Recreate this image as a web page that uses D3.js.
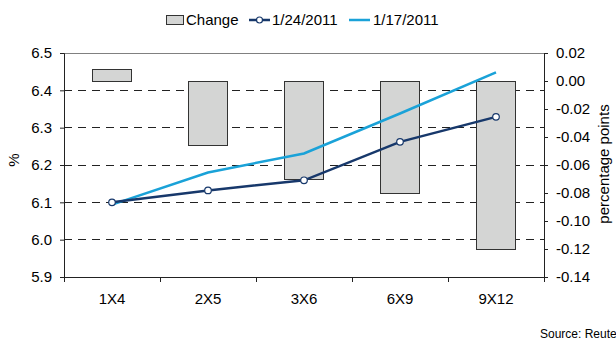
<!DOCTYPE html>
<html><head><meta charset="utf-8">
<script src="https://cdn.jsdelivr.net/npm/d3@7"></script>
<style>
html,body{margin:0;padding:0;background:#fff;overflow:hidden}
text{font-family:"Liberation Sans",Arial,sans-serif;fill:#000}
</style></head>
<body><svg id="c" width="616" height="340"></svg>
<script>
const categories = ["1X4","2X5","3X6","6X9","9X12"];
const jan24 = [6.10, 6.132, 6.159, 6.262, 6.329];
const jan17 = [6.094, 6.18, 6.231, 6.338, 6.448];
const change = [0.008, -0.046, -0.070, -0.080, -0.120];
const leftTicks = [5.9, 6.0, 6.1, 6.2, 6.3, 6.4, 6.5];
const rightTicks = [0.02, 0.00, -0.02, -0.04, -0.06, -0.08, -0.10, -0.12, -0.14];
const seriesNames = ["Change", "1/24/2011", "1/17/2011"];

const L = 64, R = 544, T = 53, B = 277;
const svg = d3.select("#c");
const x = d3.scaleBand().domain(categories).range([L, R]).padding(0);
const yL = d3.scaleLinear().domain([5.9, 6.5]).range([B, T]);
const yR = d3.scaleLinear().domain([-0.14, 0.02]).range([B, T]);
const navy = "#17386b", cyan = "#1aa2d8";

// gridlines
svg.append("g").selectAll("line").data(leftTicks.filter(d => d > 5.9 && d < 6.5)).join("line")
  .attr("x1", L).attr("x2", R).attr("y1", d => yL(d)).attr("y2", d => yL(d))
  .attr("stroke", "#222").attr("stroke-width", 1).attr("stroke-dasharray", "8,6")
  .attr("shape-rendering", "crispEdges");
// top border
svg.append("line").attr("x1", L).attr("x2", R).attr("y1", yL(6.5)).attr("y2", yL(6.5))
  .attr("stroke", "#808080").attr("stroke-width", 1).attr("shape-rendering", "crispEdges");

// bars
const bw = x.bandwidth() * 0.405;
svg.append("g").selectAll("rect").data(categories).join("rect")
  .attr("x", (c) => x(c) + (x.bandwidth() - bw) / 2)
  .attr("width", bw)
  .attr("y", (c, i) => Math.min(yR(change[i]), yR(0)))
  .attr("height", (c, i) => Math.abs(yR(change[i]) - yR(0)))
  .attr("fill", "#d4d5d4").attr("stroke", "#333").attr("stroke-width", 1)
  .attr("shape-rendering", "crispEdges");

// lines
const cx = c => x(c) + x.bandwidth() / 2;
const line = d3.line().x((d, i) => cx(categories[i])).y(d => yL(d));
svg.append("path").datum(jan17).attr("d", line).attr("fill", "none")
  .attr("stroke", cyan).attr("stroke-width", 2.5);
svg.append("path").datum(jan24).attr("d", line).attr("fill", "none")
  .attr("stroke", navy).attr("stroke-width", 2.5);
svg.append("g").selectAll("circle").data(jan24).join("circle")
  .attr("cx", (d, i) => cx(categories[i])).attr("cy", d => yL(d)).attr("r", 3.3)
  .attr("fill", "#fff").attr("stroke", navy).attr("stroke-width", 1.2);

// axes
const fs = "15px";
const gl = svg.append("g").attr("transform", `translate(${L},0)`)
  .call(d3.axisLeft(yL).tickValues(leftTicks).tickFormat(d3.format(".1f")).tickSize(4).tickPadding(8));
const gr = svg.append("g").attr("transform", `translate(${R},0)`)
  .call(d3.axisRight(yR).tickValues(rightTicks).tickFormat(d3.format(".2f")).tickSize(4).tickPadding(8));
const gb = svg.append("g").attr("transform", `translate(0,${B})`)
  .call(d3.axisBottom(x).tickSize(0).tickPadding(16));
[gl, gr, gb].forEach(g => {
  g.selectAll("text").style("font-size", fs).attr("font-family", '"Liberation Sans",Arial,sans-serif').attr("fill", "#000");
  g.selectAll("line").attr("stroke", "#222");
  g.select(".domain").attr("stroke", "#222");
});
gr.selectAll("text").text(d => d3.format(".2f")(d).replace("−", "-"));
// category separator ticks
const seps = categories.map(c => x(c)).concat([R]);
svg.append("g").selectAll("line").data(seps).join("line")
  .attr("x1", d => d).attr("x2", d => d).attr("y1", B).attr("y2", B + 5)
  .attr("stroke", "#222").attr("shape-rendering", "crispEdges");

// axis titles
svg.append("text").attr("transform", `translate(19,160) rotate(-90)`)
  .attr("text-anchor", "middle").style("font-size", "15px").text("%");
svg.append("text").attr("transform", `translate(609,164) rotate(-90)`)
  .attr("text-anchor", "middle").style("font-size", "15px").text("percentage points");

// legend
const lg = svg.append("g");
lg.append("rect").attr("x", 166.5).attr("y", 15.5).attr("width", 17).attr("height", 9)
  .attr("fill", "#d4d5d4").attr("stroke", "#333");
lg.append("text").attr("x", 186).attr("y", 25).style("font-size", "15px").text(seriesNames[0]);
lg.append("line").attr("x1", 249).attr("x2", 270).attr("y1", 20).attr("y2", 20)
  .attr("stroke", navy).attr("stroke-width", 2.5);
lg.append("circle").attr("cx", 259.5).attr("cy", 20).attr("r", 3)
  .attr("fill", "#fff").attr("stroke", navy).attr("stroke-width", 1.2);
lg.append("text").attr("x", 272).attr("y", 25).style("font-size", "15px").text(seriesNames[1]);
lg.append("line").attr("x1", 349).attr("x2", 370).attr("y1", 20).attr("y2", 20)
  .attr("stroke", cyan).attr("stroke-width", 2.5);
lg.append("text").attr("x", 373).attr("y", 25).style("font-size", "15px").text(seriesNames[2]);

// source
svg.append("text").attr("x", 540).attr("y", 338).style("font-size", "12px").text("Source: Reuters");
</script></body></html>
